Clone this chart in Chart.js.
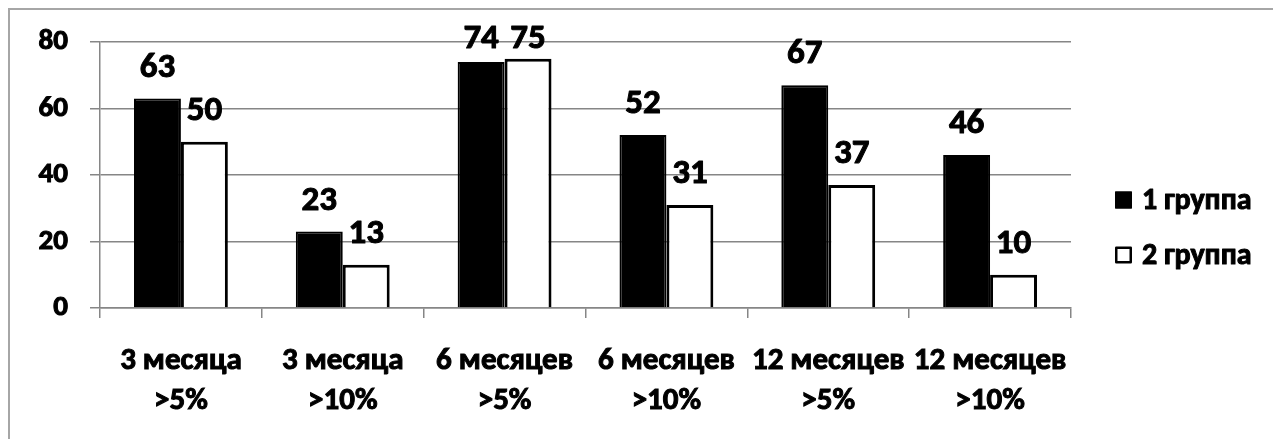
<!DOCTYPE html>
<html>
<head>
<meta charset="utf-8">
<script src="https://cdn.jsdelivr.net/npm/chart.js@4/dist/chart.umd.min.js"></script>
<style>
  html, body { margin: 0; padding: 0; background: #fff; }
  #wrap { position: relative; width: 1273px; height: 439px; }
</style>
</head>
<body>
<div id="wrap"><canvas id="c" width="1273" height="439"></canvas></div>
<script>
const categories = [
  ['3 месяца', '>5%'],
  ['3 месяца', '>10%'],
  ['6 месяцев', '>5%'],
  ['6 месяцев', '>10%'],
  ['12 месяцев', '>5%'],
  ['12 месяцев', '>10%']
];
const seriesNames = ['1 группа', '2 группа'];
const group1 = [63, 23, 74, 52, 67, 46];
const group2 = [50, 13, 75, 31, 37, 10];
const yTicks = [0, 20, 40, 60, 80];

const FONT = "Carlito, Lato, 'Open Sans', sans-serif";
const GRID = '#868686';
const STROKE = 1;

const frame = {
  id: 'frame',
  beforeDraw(chart) {
    const ctx = chart.ctx;
    ctx.save();
    ctx.fillStyle = '#fff';
    ctx.fillRect(0, 0, chart.width, chart.height);
    ctx.strokeStyle = '#a6a6a6';
    ctx.lineWidth = 2;
    ctx.beginPath();
    ctx.moveTo(9, chart.height);
    ctx.lineTo(9, 9);
    ctx.lineTo(chart.width, 9);
    ctx.stroke();
    ctx.restore();
  }
};

const valueLabels = {
  id: 'valueLabels',
  afterDatasetsDraw(chart) {
    const ctx = chart.ctx;
    ctx.save();
    ctx.font = 'bold 35px ' + FONT;
    ctx.fillStyle = '#000';
    ctx.strokeStyle = '#000';
    ctx.lineWidth = STROKE;
    ctx.lineJoin = 'round';
    ctx.textAlign = 'center';
    ctx.textBaseline = 'alphabetic';
    const minY = chart.chartArea.top + 6;
    chart.data.datasets.forEach((ds, di) => {
      const meta = chart.getDatasetMeta(di);
      meta.data.forEach((bar, i) => {
        const y = Math.max(bar.y - 22, minY);
        ctx.strokeText(String(ds.data[i]), bar.x, y);
        ctx.fillText(String(ds.data[i]), bar.x, y);
      });
    });
    ctx.restore();
  }
};

const sideLegend = {
  id: 'sideLegend',
  afterDraw(chart) {
    const ctx = chart.ctx;
    ctx.save();
    ctx.font = 'bold 30px ' + FONT;
    ctx.textBaseline = 'middle';
    ctx.textAlign = 'left';
    ctx.lineJoin = 'round';
    const x0 = 1115, size = 17;
    const ys = [200, 255];
    chart.data.datasets.forEach((ds, i) => {
      const cy = ys[i];
      ctx.fillStyle = ds.backgroundColor;
      ctx.fillRect(x0, cy - size / 2, size, size);
      ctx.strokeStyle = '#000';
      ctx.lineWidth = 2.5;
      ctx.strokeRect(x0 + 1.25, cy - size / 2 + 1.25, size - 2.5, size - 2.5);
      ctx.fillStyle = '#000';
      ctx.lineWidth = STROKE;
      ctx.strokeText(ds.label, x0 + 27, cy + 1);
      ctx.fillText(ds.label, x0 + 27, cy + 1);
    });
    ctx.restore();
  }
};

new Chart(document.getElementById('c'), {
  type: 'bar',
  data: {
    labels: categories,
    datasets: [
      { label: seriesNames[0], data: group1, backgroundColor: '#000000', borderColor: '#000000', borderWidth: 2 },
      { label: seriesNames[1], data: group2, backgroundColor: '#ffffff', borderColor: '#000000', borderWidth: 3 }
    ]
  },
  options: {
    responsive: false,
    animation: false,
    devicePixelRatio: 1,
    layout: { padding: { left: 0, right: 202, top: 42, bottom: 0 } },
    datasets: { bar: { barPercentage: 1, categoryPercentage: 0.58 } },
    plugins: { legend: { display: false }, tooltip: { enabled: false } },
    scales: {
      x: {
        afterFit(s) { s.height = 131; },
        grid: { display: true, drawOnChartArea: false, drawTicks: true, tickLength: 10, color: GRID, offset: true, lineWidth: 1.5 },
        border: { display: true, color: GRID, width: 1.5 },
        ticks: {
          color: '#000', padding: 23, maxRotation: 0, autoSkip: false,
          textStrokeColor: '#000', textStrokeWidth: STROKE,
          font: { family: FONT, size: 31, weight: 'bold', lineHeight: 1.3 }
        }
      },
      y: {
        min: 0, max: 80,
        afterFit(s) { s.width = 100; },
        afterBuildTicks(s) { s.ticks = yTicks.map(v => ({ value: v })); },
        grid: { color: GRID, tickLength: 10, lineWidth: 1.5 },
        border: { display: true, color: GRID, width: 1.5 },
        ticks: {
          color: '#000', padding: 22,
          textStrokeColor: '#000', textStrokeWidth: STROKE,
          font: { family: FONT, size: 29, weight: 'bold' }
        }
      }
    }
  },
  plugins: [frame, valueLabels, sideLegend]
});
</script>
</body>
</html>
